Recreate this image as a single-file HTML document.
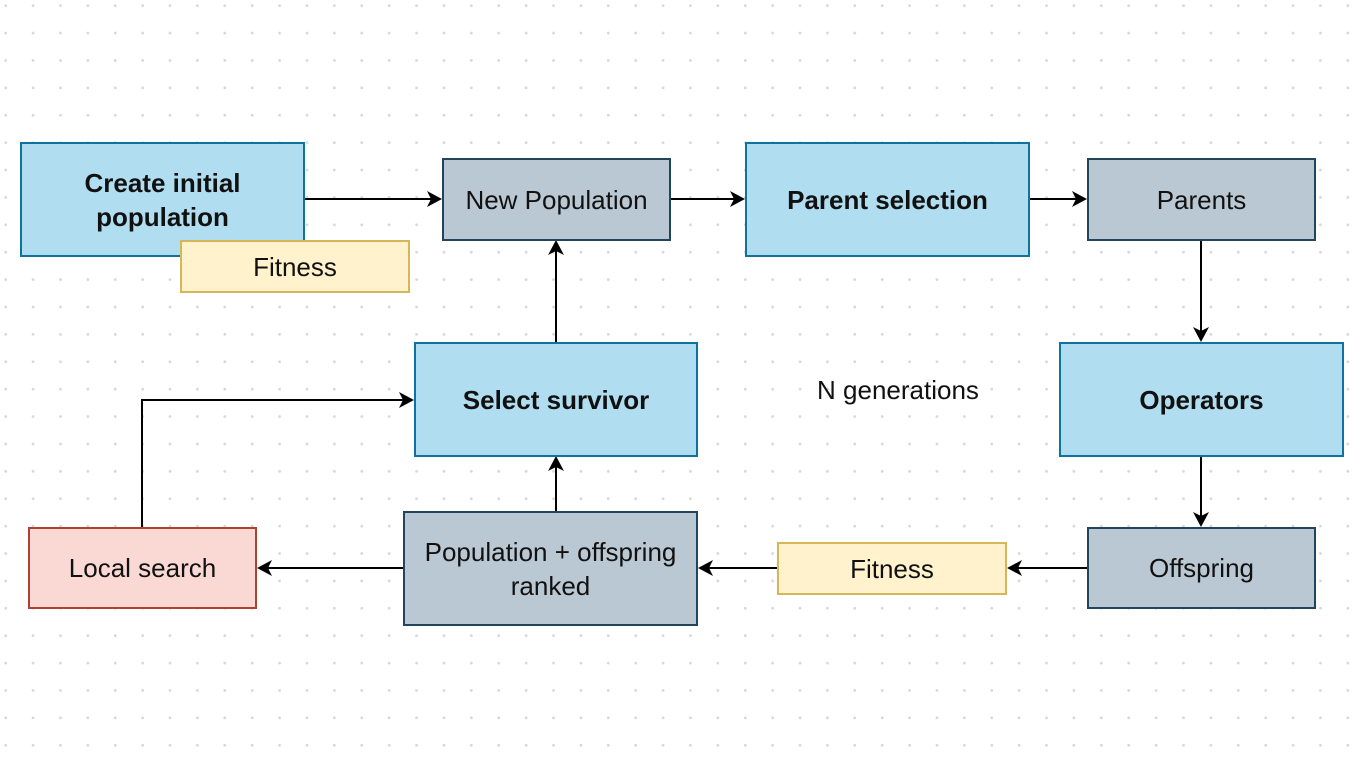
<!DOCTYPE html>
<html><head><style>
body{margin:0;width:1364px;height:768px;overflow:hidden;background:#fff;
background-image:radial-gradient(circle,#d8d8d8 1.3px,transparent 1.6px);background-size:27.4px 27.4px;background-position:-8px -8px;font-family:"Liberation Sans",sans-serif;}
.b{position:absolute;box-sizing:border-box;display:flex;align-items:center;justify-content:center;text-align:center;font-size:26px;color:#111;line-height:34px;border:2px solid}
.bl{background:#b1ddf0;border-color:#10739e;font-weight:bold}
.g{background:#bac8d3;border-color:#23445d}
.y{background:#fff2cc;border-color:#d6b656}
.r{background:#fad9d5;border-color:#ae4132}
svg{position:absolute;left:0;top:0}
</style></head><body>
<svg width="1364" height="768">
<g stroke="#000" stroke-width="2" fill="none">
<path d="M304,199 H432"/>
<path d="M670,199 H735"/>
<path d="M1029,199 H1077"/>
<path d="M1201,240 V332"/>
<path d="M1201,456 V517"/>
<path d="M1087,568 H1016"/>
<path d="M777,568 H707"/>
<path d="M403,568 H266"/>
<path d="M556,511 V466"/>
<path d="M556,342 V250"/>
<path d="M142,527 V400 H404"/>
</g>
<g fill="#000">
<path d="M442,199 l-15,-8 l4,8 l-4,8z"/>
<path d="M745,199 l-15,-8 l4,8 l-4,8z"/>
<path d="M1087,199 l-15,-8 l4,8 l-4,8z"/>
<path d="M414,400 l-15,-8 l4,8 l-4,8z"/>
<path d="M1007,568 l15,-8 l-4,8 l4,8z"/>
<path d="M698,568 l15,-8 l-4,8 l4,8z"/>
<path d="M257,568 l15,-8 l-4,8 l4,8z"/>
<path d="M1201,342 l-8,-15 l8,4 l8,-4z"/>
<path d="M1201,527 l-8,-15 l8,4 l8,-4z"/>
<path d="M556,456 l-8,15 l8,-4 l8,4z"/>
<path d="M556,240 l-8,15 l8,-4 l8,4z"/>
</g></svg>
<div class="b bl" style="left:20px;top:142px;width:285px;height:115px">Create initial<br>population</div>
<div class="b y" style="left:180px;top:240px;width:230px;height:53px">Fitness</div>
<div class="b g" style="left:442px;top:158px;width:229px;height:83px">New Population</div>
<div class="b bl" style="left:745px;top:142px;width:285px;height:115px">Parent selection</div>
<div class="b g" style="left:1087px;top:158px;width:229px;height:83px">Parents</div>
<div class="b bl" style="left:1059px;top:342px;width:285px;height:115px">Operators</div>
<div class="b g" style="left:1087px;top:527px;width:229px;height:82px">Offspring</div>
<div class="b y" style="left:777px;top:542px;width:230px;height:53px">Fitness</div>
<div class="b g" style="left:403px;top:511px;width:295px;height:115px">Population + offspring<br>ranked</div>
<div class="b bl" style="left:414px;top:342px;width:284px;height:115px">Select survivor</div>
<div class="b r" style="left:28px;top:527px;width:229px;height:82px">Local search</div>
<div style="position:absolute;left:778px;top:375px;width:240px;text-align:center;font-size:26px;color:#111">N generations</div>
</body></html>
